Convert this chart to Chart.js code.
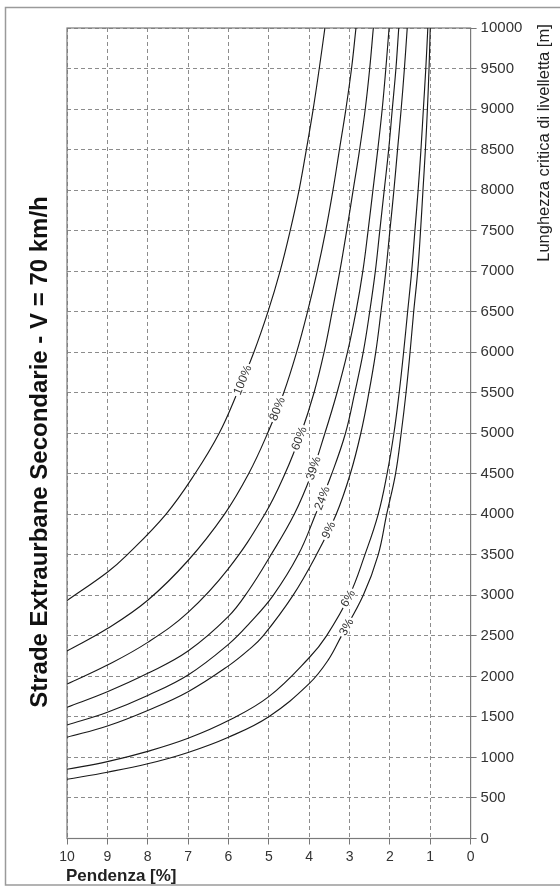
<!DOCTYPE html>
<html>
<head>
<meta charset="utf-8">
<script src="https://cdn.jsdelivr.net/npm/chart.js@4.4.1/dist/chart.umd.min.js"></script>
<style>
  html, body { margin: 0; padding: 0; background: #ffffff; }
  canvas { display: block; }
</style>
</head>
<body>
<canvas id="chart" width="560" height="888"></canvas>
<script>
// Critical grade length curves, one per share of heavy traffic.
// Each pair is [grade %, critical length m].
const seriesNames = ['100%', '80%', '60%', '39%', '24%', '9%', '6%', '3%'];

const curve100 = [[10, 2935], [9, 3285], [8.53, 3490], [7.55, 4000], [6.83, 4500], [6.23, 5000],
  [5.78, 5500], [5.37, 6000], [5.02, 6500], [4.72, 7000], [4.47, 7500], [4.25, 8000],
  [4.07, 8500], [3.90, 9000], [3.75, 9500], [3.61, 10000]];
const curve80 = [[10, 2313], [9, 2590], [8, 2940], [7, 3430], [6.10, 4000],
  [5.50, 4500], [5.03, 5000], [4.63, 5500], [4.31, 6000], [4.04, 6500], [3.80, 7000],
  [3.59, 7500], [3.41, 8000], [3.25, 8500], [3.09, 9000], [2.95, 9500], [2.84, 10000]];
const curve60 = [[10, 1905], [9, 2140], [8, 2420], [7, 2790], [6, 3330], [5.10, 4000],
  [4.60, 4500], [4.20, 5000], [3.88, 5500], [3.63, 6000], [3.43, 6500], [3.24, 7000],
  [3.07, 7500], [2.91, 8000], [2.75, 8500], [2.61, 9000], [2.50, 9500], [2.41, 10000]];
const curve39 = [[10, 1619], [9, 1811], [8, 2038], [7, 2313], [6, 2740], [5.5, 3060],
  [4.97, 3480], [4.37, 4000], [3.94, 4500], [3.61, 5000], [3.31, 5500], [3.05, 6000],
  [2.84, 6500], [2.67, 7000], [2.54, 7500], [2.42, 8000], [2.30, 8500], [2.19, 9000],
  [2.10, 9500], [2.02, 10000]];
const curve24 = [[10, 1400], [9, 1558], [8, 1765], [7, 2017], [6, 2395], [5.47, 2660],
  [4.89, 3000], [4.27, 3500], [3.84, 4000], [3.44, 4500], [3.10, 5000], [2.87, 5500],
  [2.66, 6000], [2.50, 6500], [2.36, 7000], [2.25, 7500], [2.14, 8000], [2.03, 8500],
  [1.94, 9000], [1.85, 9500], [1.78, 10000]];
const curve9 = [[10, 1249], [9, 1388], [8, 1580], [7, 1811], [6, 2130], [5.47, 2340],
  [5.14, 2500], [4.40, 3000], [3.82, 3500], [3.33, 4000], [2.98, 4500], [2.72, 5000],
  [2.52, 5500], [2.35, 6000], [2.22, 6500], [2.10, 7000], [2.00, 7500], [1.90, 8000],
  [1.81, 8500], [1.72, 9000], [1.64, 9500], [1.57, 10000]];
const curve6 = [[10, 854], [9, 948], [8, 1075], [7, 1236], [6, 1455], [5, 1750], [4, 2230],
  [3.57, 2500], [3.0, 3000], [2.62, 3500], [2.29, 4000], [2.07, 4500], [1.90, 5000],
  [1.77, 5500], [1.66, 6000], [1.56, 6500], [1.46, 7000], [1.38, 7500], [1.30, 8000],
  [1.23, 8500], [1.17, 9000], [1.11, 9500], [1.06, 10000]];
const curve3 = [[10, 731], [9, 818], [8, 922], [7, 1062], [6, 1250], [5, 1503], [4, 1910],
  [3.53, 2200], [3.20, 2500], [2.66, 3000], [2.29, 3500], [2.08, 4000], [1.86, 4500],
  [1.72, 5000], [1.60, 5500], [1.50, 6000], [1.41, 6500], [1.31, 7000], [1.24, 7500],
  [1.18, 8000], [1.12, 8500], [1.07, 9000], [1.03, 9500], [1.00, 10000]];

// Length (m) at which each curve carries its name tag
const tagLengths = [5657, 5300, 4937, 4568, 4200, 3806, 2963, 2610];

const gradeMin = 0, gradeMax = 10, gradeStep = 1;
const lengthMin = 0, lengthMax = 10000, lengthStep = 500;

const chartTitle = 'Strade Extraurbane Secondarie - V = 70 km/h';
const xTitle = 'Pendenza [%]';
const yTitle = 'Lunghezza critica di livelletta [m]';

const FONT = '"Liberation Sans", Arial, Helvetica, sans-serif';
Chart.defaults.font.family = FONT;

const allCurves = [curve100, curve80, curve60, curve39, curve24, curve9, curve6, curve3];

const datasets = allCurves.map((pts, i) => ({
  label: seriesNames[i],
  data: pts.map(p => ({ x: p[0], y: p[1] })),
  borderColor: '#1a1a1a',
  borderWidth: 1.15,
  pointRadius: 0,
  fill: false,
  tension: 0.4
}));

// Solid frame round the plot plus the outer picture border
const framePlugin = {
  id: 'frame',
  beforeDatasetsDraw(chart) {
    const { ctx, chartArea: a } = chart;
    ctx.save();
    ctx.strokeStyle = '#7a7a7a';
    ctx.lineWidth = 1.2;
    ctx.strokeRect(a.left, a.top, a.right - a.left, a.bottom - a.top);
    ctx.restore();
  },
  afterDraw(chart) {
    const { ctx } = chart;
    ctx.save();
    ctx.strokeStyle = '#9a9a9a';
    ctx.lineWidth = 1.5;
    ctx.beginPath();
    ctx.moveTo(560, 7.5); ctx.lineTo(5.5, 7.5); ctx.lineTo(5.5, 885); ctx.lineTo(560, 885);
    ctx.stroke();
    ctx.restore();
  }
};

// Name tags written along each curve, with a gap cut in the line
const tagPlugin = {
  id: 'curveTags',
  afterDatasetsDraw(chart) {
    const { ctx, scales } = chart;
    const xs = scales.x, ys = scales.y;
    ctx.save();
    ctx.font = '12px ' + FONT;
    ctx.textAlign = 'center';
    ctx.textBaseline = 'middle';
    chart.data.datasets.forEach((ds, i) => {
      const target = tagLengths[i];
      const pts = ds.data;
      for (let k = 0; k < pts.length - 1; k++) {
        const a = pts[k], b = pts[k + 1];
        if ((a.y - target) * (b.y - target) <= 0) {
          const t = (target - a.y) / (b.y - a.y);
          const gx = a.x + t * (b.x - a.x);
          const px = xs.getPixelForValue(gx);
          const py = ys.getPixelForValue(target);
          const ang = Math.atan2(ys.getPixelForValue(b.y) - ys.getPixelForValue(a.y),
                                 xs.getPixelForValue(b.x) - xs.getPixelForValue(a.x));
          const w = ctx.measureText(ds.label).width;
          ctx.save();
          ctx.translate(px, py);
          ctx.rotate(ang);
          ctx.fillStyle = '#ffffff';
          ctx.fillRect(-w / 2 - 2, -5, w + 4, 10);
          ctx.fillStyle = '#333333';
          ctx.fillText(ds.label, 0, 0.5);
          ctx.restore();
          break;
        }
      }
    });
    ctx.restore();
  }
};

// Title, axis titles
const textPlugin = {
  id: 'texts',
  afterDraw(chart) {
    const { ctx } = chart;
    ctx.save();
    ctx.fillStyle = '#111111';
    ctx.textAlign = 'center';
    ctx.textBaseline = 'middle';

    ctx.save();
    ctx.translate(40, 452);
    ctx.rotate(-Math.PI / 2);
    ctx.font = 'bold 24px ' + FONT;
    ctx.fillText(chartTitle, 0, 0);
    ctx.restore();

    ctx.save();
    ctx.translate(544, 143);
    ctx.rotate(-Math.PI / 2);
    ctx.font = '16.5px ' + FONT;
    ctx.fillStyle = '#222222';
    ctx.fillText(yTitle, 0, 0);
    ctx.restore();

    ctx.font = 'bold 17px ' + FONT;
    ctx.textAlign = 'left';
    ctx.fillStyle = '#222222';
    ctx.fillText(xTitle, 66, 876);
    ctx.restore();
  }
};

new Chart(document.getElementById('chart'), {
  type: 'line',
  data: { datasets },
  options: {
    responsive: false,
    animation: false,
    devicePixelRatio: 1,
    layout: { padding: { left: 67, top: 28, right: 0, bottom: 0 } },
    plugins: { legend: { display: false }, tooltip: { enabled: false }, title: { display: false } },
    scales: {
      x: {
        type: 'linear',
        position: 'bottom',
        reverse: true,
        min: gradeMin,
        max: gradeMax,
        ticks: { stepSize: gradeStep, color: '#333333', font: { size: 14 }, padding: 4, maxRotation: 0, autoSkip: false,
                 callback: v => String(v) },
        grid: { color: '#8c8c8c', lineWidth: 1, tickLength: 6, tickColor: '#777777', tickWidth: 1 },
        border: { display: false, dash: [4, 3] },
        afterFit(scale) { scale.height = 49.5; }
      },
      y: {
        type: 'linear',
        position: 'right',
        min: lengthMin,
        max: lengthMax,
        ticks: { stepSize: lengthStep, color: '#333333', font: { size: 15 }, padding: 4, autoSkip: false,
                 callback: v => String(v) },
        grid: { color: '#8c8c8c', lineWidth: 1, tickLength: 6, tickColor: '#777777', tickWidth: 1 },
        border: { display: false, dash: [4, 3] },
        afterFit(scale) { scale.width = 89.4; }
      }
    }
  },
  plugins: [framePlugin, tagPlugin, textPlugin]
});
</script>
</body>
</html>
